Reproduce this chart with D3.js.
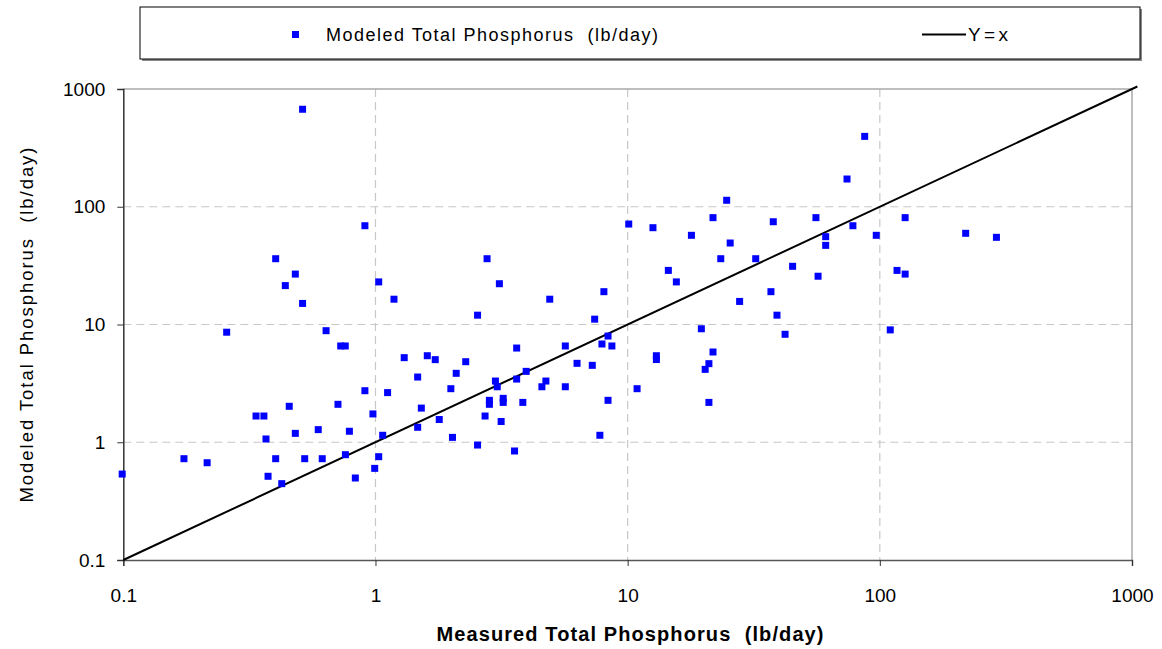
<!DOCTYPE html>
<html><head><meta charset="utf-8">
<script src="https://cdn.jsdelivr.net/npm/d3@7"></script>
<style>body{margin:0;background:#fff}svg text{font-family:"Liberation Sans",Arial,sans-serif;white-space:pre}</style>
</head><body>
<svg id="c" width="1162" height="649"></svg>
<script>
const seriesName = "Modeled Total Phosphorus  (lb/day)";
const lineName = "Y=x";
const xTitle = "Measured Total Phosphorus  (lb/day)";
const yTitle = "Modeled Total Phosphorus  (lb/day)";
const tickValues = [0.1, 1, 10, 100, 1000];
const tickLabels = ["0.1", "1", "10", "100", "1000"];
const lineData = [0.1, 1050];
const measured = [
 0.514,0.908,0.402,0.481,0.439,0.514,1.03,0.257,0.637,
 0.099,0.174,0.215,0.728,0.759,0.908,1.117,0.336,0.361,0.455,0.71,0.977,0.368,0.481,0.593,0.788,1.068,
 0.402,0.524,0.615,0.76,1.03,0.993,0.375,0.425,0.832,
 1.184,2.77,3.10,2.54,4.91,8.05,7.40,10.1,12.6,
 87.1,74.1,24.7,21.8,37.8,55.8,126,17.9,25.5,78.2,61,61,96.8,23.4,32.2,14.5,15.6,45.1,56.9,117,126,37.0,27.8,39.1,19.6,110,
 219,290,
 8.36,7.91,8.66,5.66,3.63,1.30,1.605,1.726,2.28,6.30,7.24,1.47,2.09,3.96,3.63,2.99,3.04,4.74,4.57,5.66,1.99,
 2.83,2.83,3.21,3.21,3.84,8.36,10.9,1.52,1.79,2.72,3.15,1.47,2.02,2.54,3.56,7.76,13.0,13.0,
 42.1,21.8,21.0,20.3,21.0
];
const modeled = [
 673,69,36.2,26.8,21.4,15.1,23.0,8.6,8.86,
 0.537,0.725,0.67,6.57,6.57,2.74,2.64,1.67,1.67,2.02,2.1,1.74,1.066,1.19,1.28,1.24,1.146,
 0.725,0.725,0.725,0.784,0.754,0.60,0.514,0.445,0.497,
 16.4,36.2,22.2,12.0,16.4,19.0,11.1,71.3,66.4,
 396,172,113.5,80.8,74.6,80.8,80.8,57.2,49.2,69,55.7,47.0,57.2,36.2,36.2,28.8,23.0,31.2,25.7,28.8,26.8,19.0,15.7,12.0,9.2,9.0,
 59.5,55.0,
 7.98,6.83,6.57,6.57,6.31,5.23,5.43,5.03,4.83,4.68,4.50,3.58,3.85,4.0,3.44,3.31,2.96,3.31,2.96,2.96,2.85,
 2.27,2.10,2.36,2.18,2.18,2.27,2.85,1.95,1.56,1.67,1.50,1.34,1.10,0.947,0.843,1.146,5.43,5.04,
 8.26,5.84,4.65,4.16,2.18
];

const svg = d3.select("#c");
const x = d3.scaleLog().domain([0.1, 1000]).range([123.3, 1132]);
const y = d3.scaleLog().domain([0.1, 1000]).range([560, 89]);

// gridlines
const grid = svg.append("g");
tickValues.slice(1, 4).forEach(v => {
  grid.append("line").attr("x1", x(v)).attr("x2", x(v)).attr("y1", y(1000)).attr("y2", y(0.1))
    .attr("stroke", "#c8c8c8").attr("stroke-width", 1.2).attr("stroke-dasharray", "8,5");
  grid.append("line").attr("x1", x(0.1)).attr("x2", x(1000)).attr("y1", y(v)).attr("y2", y(v))
    .attr("stroke", "#c8c8c8").attr("stroke-width", 1.2).attr("stroke-dasharray", "8,5");
});
// top and right border
svg.append("line").attr("x1", x(0.1)).attr("x2", x(1000)).attr("y1", y(1000)).attr("y2", y(1000))
  .attr("stroke", "#a8a8a8").attr("stroke-width", 1.5);
svg.append("line").attr("x1", x(1000)).attr("x2", x(1000)).attr("y1", y(1000)).attr("y2", y(0.1))
  .attr("stroke", "#a8a8a8").attr("stroke-width", 1.5);

// axes
const xAxis = d3.axisBottom(x).tickValues(tickValues).tickFormat((d, i) => tickLabels[i]).tickSize(6).tickPadding(23);
const gx = svg.append("g").attr("transform", `translate(0,${y(0.1)})`).call(xAxis);
gx.select(".domain").attr("stroke", "#555").attr("stroke-width", 1.5);
gx.selectAll(".tick line").attr("stroke", "#333");
gx.selectAll("text").attr("font-size", 19).attr("fill", "#000").style("font-family", "Liberation Sans, Arial, sans-serif");

const yAxis = d3.axisLeft(y).tickValues(tickValues).tickFormat((d, i) => tickLabels[i]).tickSize(6).tickPadding(12);
const gy = svg.append("g").attr("transform", `translate(${x(0.1)},0)`).call(yAxis);
gy.select(".domain").attr("stroke", "#333").attr("stroke-width", 1.5);
gy.selectAll(".tick line").attr("stroke", "#333");
gy.selectAll("text").attr("font-size", 19).attr("fill", "#000").style("font-family", "Liberation Sans, Arial, sans-serif");

// Y=x line
svg.append("path").datum(lineData)
  .attr("d", d3.line().x(d => x(d)).y(d => y(d)))
  .attr("stroke", "#000").attr("stroke-width", 2).attr("fill", "none");

// points
const pts = measured.map((m, i) => ({m, v: modeled[i]}));
svg.append("g").selectAll("rect").data(pts).join("rect")
  .attr("x", d => x(d.m) - 3.5).attr("y", d => y(d.v) - 3.5)
  .attr("width", 7).attr("height", 7).attr("fill", "#0000ff");

// titles
svg.append("text").attr("x", 630).attr("y", 641).attr("text-anchor", "middle")
  .attr("font-size", 20).attr("font-weight", "bold")
  .attr("textLength", 387).attr("lengthAdjust", "spacing").text(xTitle);
svg.append("text").attr("transform", "translate(33,325) rotate(-90)").attr("text-anchor", "middle")
  .attr("font-size", 18.5).attr("textLength", 355).attr("lengthAdjust", "spacing").text(yTitle);

// legend
const lg = svg.append("g");
lg.append("rect").attr("x", 142).attr("y", 9).attr("width", 1000).attr("height", 52)
  .attr("fill", "#888");
lg.append("rect").attr("x", 140).attr("y", 7).attr("width", 1000).attr("height", 52)
  .attr("fill", "#fff").attr("stroke", "#000").attr("stroke-width", 1);
lg.append("rect").attr("x", 292).attr("y", 31).attr("width", 7).attr("height", 7).attr("fill", "#0000ff");
lg.append("text").attr("x", 326).attr("y", 41).attr("font-size", 18)
  .attr("textLength", 332).attr("lengthAdjust", "spacing").text(seriesName);
lg.append("line").attr("x1", 922).attr("x2", 966).attr("y1", 34.5).attr("y2", 34.5).attr("stroke", "#000").attr("stroke-width", 2);
lg.append("text").attr("x", 968).attr("y", 41).attr("font-size", 19)
  .attr("textLength", 40).attr("lengthAdjust", "spacing").text(lineName);
</script>
</body></html>
